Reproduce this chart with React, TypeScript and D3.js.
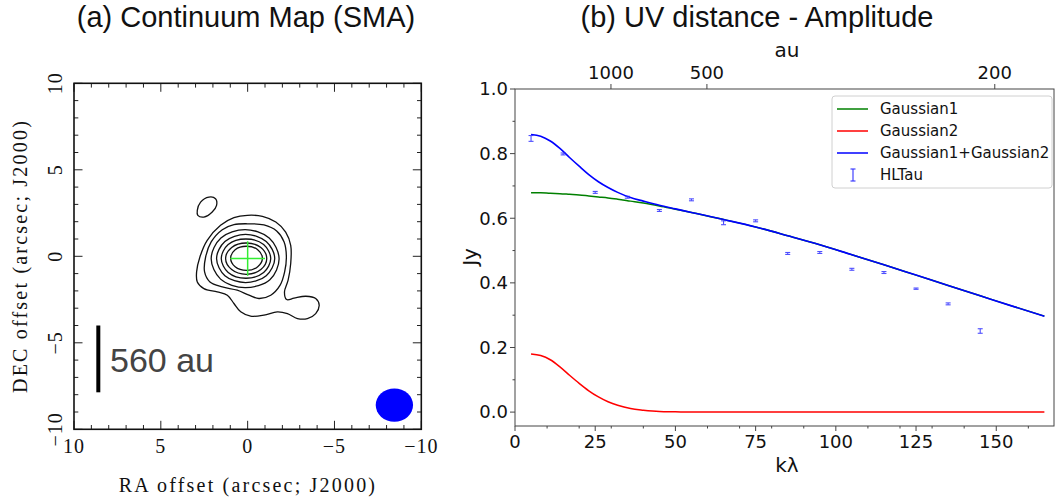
import React from 'react';
import * as d3 from 'd3';

const W = 1057;
const H = 501;

// ---------- (a) continuum map ----------
const raTicks = [10, 5, 0, -5, -10];
const decTicks = [10, 5, 0, -5, -10];
const sourcePos: [number, number] = [0, -0.13];
const crossHalf = 1.0;

// contours, [ra, dec] in arcsec, innermost first
const ring1: [number, number][] = [[0.07, 0.58], [-0.58, 0.38], [-0.85, -0.11], [-0.58, -0.6], [0.07, -0.81], [0.72, -0.6], [0.98, -0.11], [0.72, 0.38]];
const ring2: [number, number][] = [[0.08, 0.77], [-0.76, 0.51], [-1.1, -0.13], [-0.76, -0.77], [0.08, -1.04], [0.92, -0.77], [1.27, -0.13], [0.92, 0.51]];
const ring3: [number, number][] = [[0.1, 1.0], [-0.92, 0.68], [-1.33, -0.13], [-0.92, -0.94], [0.1, -1.27], [1.12, -0.94], [1.52, -0.13], [1.12, 0.68]];
const ring4: [number, number][] = [[0.12, 1.27], [-1.07, 0.86], [-1.56, -0.13], [-1.07, -1.12], [0.12, -1.52], [1.31, -1.12], [1.79, -0.13], [1.31, 0.86]];
const ring5: [number, number][] = [[0.15, 1.54], [-1.24, 1.06], [-1.81, -0.13], [-1.28, -1.36], [0.15, -1.81], [1.56, -1.32], [2.1, -0.13], [1.54, 1.06]];
const ring6: [number, number][] = [
  [0.02, 1.88], [-0.94, 1.81], [-1.67, 1.46], [-2.1, 0.83], [-2.23, -0.04], [-2.13, -0.9],
  [-1.87, -1.67], [-1.33, -2.25], [-0.65, -2.44], [-0.08, -2.25], [0.6, -1.96], [1.46, -1.77],
  [2.17, -1.48], [2.48, -0.9], [2.42, -0.04], [2.1, 0.83], [1.46, 1.54], [0.79, 1.83],
];
const ring7: [number, number][] = [
  [0.02, 2.37], [-0.85, 2.31], [-1.62, 1.98], [-2.19, 1.4], [-2.48, 0.63], [-2.48, -0.42],
  [-2.33, -1.38], [-2.12, -2.06], [-2.25, -2.5], [-2.67, -2.42], [-3.35, -2.31], [-3.92, -2.44],
  [-4.12, -2.83], [-3.92, -3.31], [-3.44, -3.6], [-2.87, -3.6], [-2.29, -3.31], [-1.71, -3.21],
  [-0.94, -3.4], [-0.17, -3.46], [0.4, -3.21], [0.79, -2.73], [1.17, -2.25], [1.75, -2.06],
  [2.52, -1.87], [2.9, -1.48], [2.94, -0.9], [2.75, -0.04], [2.33, 0.92], [1.56, 1.79], [0.79, 2.23],
];
const island: [number, number][] = [[2.9, 2.65], [2.71, 3.13], [2.23, 3.42], [1.85, 3.33], [1.79, 2.94], [2.04, 2.56], [2.52, 2.27], [2.87, 2.37]];
const contours = [ring1, ring2, ring3, ring4, ring5, ring6, ring7, island];

const beam = { ra: -8.45, dec: -8.6, major: 2.15, minor: 1.93 };
const scaleBar = { ra: 8.6, dec: -4.0, au: 560, distPc: 145 };

// ---------- (b) uv distance - amplitude ----------
const uvKl = [5, 15, 25, 35, 45, 55, 65, 75, 85, 95, 105, 115, 125, 135, 145];
const ampJy = [0.847, 0.799, 0.68, 0.665, 0.624, 0.657, 0.586, 0.592, 0.491, 0.494, 0.442, 0.432, 0.382, 0.335, 0.251];
const ampErr = [0.009, 0.003, 0.003, 0.003, 0.003, 0.003, 0.006, 0.003, 0.003, 0.003, 0.003, 0.003, 0.002, 0.003, 0.007];

const modelKl = [5, 8, 11, 14, 17, 20, 23, 26, 29, 32, 36, 40, 45, 50, 55, 65, 75, 85, 95, 105, 115, 125, 135, 145, 155, 165];
const gauss1 = [0.679, 0.679, 0.677, 0.676, 0.674, 0.672, 0.669, 0.666, 0.663, 0.659, 0.653, 0.647, 0.638, 0.628, 0.618, 0.596, 0.573, 0.546, 0.518, 0.487, 0.456, 0.424, 0.392, 0.36, 0.328, 0.297];
const gauss2 = [0.18, 0.175, 0.162, 0.14, 0.114, 0.089, 0.066, 0.047, 0.032, 0.021, 0.011, 0.006, 0.002, 0.001, 0, 0, 0, 0, 0, 0, 0, 0, 0, 0, 0, 0];
const gaussSum = [0.859, 0.854, 0.839, 0.816, 0.788, 0.761, 0.735, 0.713, 0.695, 0.68, 0.664, 0.653, 0.64, 0.629, 0.618, 0.596, 0.573, 0.546, 0.518, 0.487, 0.456, 0.424, 0.392, 0.36, 0.328, 0.297];

const xTicks = [0, 25, 50, 75, 100, 125, 150];
const yTicks = [0.0, 0.2, 0.4, 0.6, 0.8, 1.0];
const auTicks = [1000, 500, 200];
const AU_KL = 206.265 * 145; // au = AU_KL / kλ

const legendItems = [
  { label: 'Gaussian1', color: '#008000', kind: 'line' },
  { label: 'Gaussian2', color: '#ff0000', kind: 'line' },
  { label: 'Gaussian1+Gaussian2', color: '#0000ff', kind: 'line' },
  { label: 'HLTau', color: '#3030ff', kind: 'err' },
];

const serif = '"Liberation Serif", "Times New Roman", serif';
const helv = '"Liberation Sans", Arial, sans-serif';
const dejavu = '"DejaVu Sans", sans-serif';

const fmtMinus = (v: number) => (v < 0 ? '\u2212' + Math.abs(v) : String(v));

const ContinuumMap = () => {
  const ra = d3.scaleLinear().domain([10, -10]).range([74, 421.3]);
  const dec = d3.scaleLinear().domain([10, -10]).range([83.3, 429.3]);
  const line = d3
    .line<[number, number]>()
    .x(d => ra(d[0]))
    .y(d => dec(d[1]))
    .curve(d3.curveCatmullRomClosed.alpha(0.5));

  const x0 = ra(10), x1 = ra(-10), y0 = dec(10), y1 = dec(-10);
  const minor = d3.range(-10, 11);
  const tickLen = (v: number) => (v % 5 === 0 ? 8.5 : 4.3);
  const barLen = scaleBar.au / scaleBar.distPc;

  return (
    <g>
      <text x={246} y={27} textAnchor="middle" fontFamily={helv} fontSize={29} fill="#111">
        (a) Continuum Map (SMA)
      </text>
      {contours.map((c, i) => (
        <path key={i} d={line(c) || ''} fill="none" stroke="#111" strokeWidth={1.3} />
      ))}
      <line x1={ra(sourcePos[0] + crossHalf)} x2={ra(sourcePos[0] - crossHalf)} y1={dec(sourcePos[1])} y2={dec(sourcePos[1])} stroke="#33ee33" strokeWidth={1.5} />
      <line x1={ra(sourcePos[0])} x2={ra(sourcePos[0])} y1={dec(sourcePos[1] + crossHalf)} y2={dec(sourcePos[1] - crossHalf)} stroke="#33ee33" strokeWidth={1.5} />
      <line x1={ra(scaleBar.ra)} x2={ra(scaleBar.ra)} y1={dec(scaleBar.dec)} y2={dec(scaleBar.dec - barLen)} stroke="#000" strokeWidth={4} />
      <text x={110} y={372} fontFamily={helv} fontSize={34} fill="#444">
        {scaleBar.au} au
      </text>
      <ellipse
        cx={ra(beam.ra)}
        cy={dec(beam.dec)}
        rx={Math.abs(ra(beam.major / 2) - ra(0))}
        ry={Math.abs(dec(beam.minor / 2) - dec(0))}
        fill="#0000ff"
      />
      {minor.map(v => (
        <g key={'t' + v} stroke="#222" strokeWidth={1}>
          <line x1={ra(v)} x2={ra(v)} y1={y1} y2={y1 - tickLen(v)} />
          <line x1={ra(v)} x2={ra(v)} y1={y0} y2={y0 + tickLen(v)} />
          <line y1={dec(v)} y2={dec(v)} x1={x0} x2={x0 + tickLen(v)} />
          <line y1={dec(v)} y2={dec(v)} x1={x1} x2={x1 - tickLen(v)} />
        </g>
      ))}
      <rect x={x0} y={y0} width={x1 - x0} height={y1 - y0} fill="none" stroke="#111" strokeWidth={1.6} />
      {raTicks.map(v => (
        <text key={'rx' + v} x={ra(v)} y={453} textAnchor="middle" fontFamily={serif} fontSize={20} letterSpacing={1} fill="#111">
          {fmtMinus(v)}
        </text>
      ))}
      {decTicks.map(v => (
        <text key={'dy' + v} transform={`translate(62,${dec(v)}) rotate(-90)`} textAnchor="middle" fontFamily={serif} fontSize={20} letterSpacing={1} fill="#111">
          {fmtMinus(v)}
        </text>
      ))}
      <text x={248} y={492} textAnchor="middle" fontFamily={serif} fontSize={20} letterSpacing={2.2} fill="#111">
        RA offset (arcsec; J2000)
      </text>
      <text transform={`translate(27,256) rotate(-90)`} textAnchor="middle" fontFamily={serif} fontSize={20} letterSpacing={2.2} fill="#111">
        DEC offset (arcsec; J2000)
      </text>
    </g>
  );
};

const UVPlot = () => {
  const x = d3.scaleLinear().domain([0, 168]).range([515, 1054]);
  const y = d3.scaleLinear().domain([-0.043, 1]).range([426, 89]);
  const mk = (vals: number[]) =>
    d3
      .line<number>()
      .x((_, i) => x(modelKl[i]))
      .y(d => y(d))
      .curve(d3.curveMonotoneX)(vals) || '';

  const left = x.range()[0], right = x.range()[1];
  const top = y.range()[1], bottom = y.range()[0];
  const xMinor = d3.range(10, 168, 10);
  const yMinor = [0.1, 0.3, 0.5, 0.7, 0.9];
  const axisColor = '#444';

  const lgX = 832, lgY = 96, lgW = 220, lgRow = 22;

  return (
    <g>
      <text x={757} y={27} textAnchor="middle" fontFamily={helv} fontSize={29} fill="#111">
        (b) UV distance - Amplitude
      </text>
      <text x={787} y={57} textAnchor="middle" fontFamily={dejavu} fontSize={20} fill="#111">
        au
      </text>

      <path d={mk(gauss2)} fill="none" stroke="#ff0000" strokeWidth={1.5} />
      <path d={mk(gauss1)} fill="none" stroke="#008000" strokeWidth={1.5} />
      <path d={mk(gaussSum)} fill="none" stroke="#0000ff" strokeWidth={1.6} />

      {uvKl.map((k, i) => {
        const cx = x(k);
        const ya = y(ampJy[i] + ampErr[i]);
        const yb = y(ampJy[i] - ampErr[i]);
        return (
          <g key={'e' + i} stroke="#3030ff" strokeWidth={1.1} opacity={0.85}>
            <line x1={cx} x2={cx} y1={ya} y2={yb} />
            <line x1={cx - 2.5} x2={cx + 2.5} y1={ya} y2={ya} />
            <line x1={cx - 2.5} x2={cx + 2.5} y1={yb} y2={yb} />
          </g>
        );
      })}

      {/* spines */}
      <rect x={left} y={top} width={right - left} height={bottom - top} fill="none" stroke={axisColor} strokeWidth={1} />

      {xTicks.map(v => (
        <g key={'xt' + v}>
          <line x1={x(v)} x2={x(v)} y1={bottom} y2={bottom + 5} stroke={axisColor} />
          <text x={x(v)} y={448} textAnchor="middle" fontFamily={dejavu} fontSize={18} fill="#111">
            {v}
          </text>
        </g>
      ))}
      {xMinor.filter(v => v % 25 !== 0).map(v => (
        <line key={'xm' + v} x1={x(v)} x2={x(v)} y1={bottom} y2={bottom + 2.5} stroke={axisColor} />
      ))}
      {yTicks.map(v => (
        <g key={'yt' + v}>
          <line x1={left - 5} x2={left} y1={y(v)} y2={y(v)} stroke={axisColor} />
          <text x={508} y={y(v)} dy="0.35em" textAnchor="end" fontFamily={dejavu} fontSize={18} fill="#111">
            {v.toFixed(1)}
          </text>
        </g>
      ))}
      {yMinor.map(v => (
        <line key={'ym' + v} x1={left - 2.5} x2={left} y1={y(v)} y2={y(v)} stroke={axisColor} />
      ))}
      {auTicks.map(a => (
        <g key={'au' + a}>
          <line x1={x(AU_KL / a)} x2={x(AU_KL / a)} y1={top} y2={top - 5} stroke={axisColor} />
          <text x={x(AU_KL / a)} y={79} textAnchor="middle" fontFamily={dejavu} fontSize={18} fill="#111">
            {a}
          </text>
        </g>
      ))}

      <text x={787} y={472} textAnchor="middle" fontFamily={dejavu} fontSize={20} fill="#111">
        kλ
      </text>
      <text transform="translate(477,257) rotate(-90)" textAnchor="middle" fontFamily={dejavu} fontSize={20} fill="#111">
        Jy
      </text>

      {/* legend */}
      <rect x={lgX} y={lgY} width={lgW} height={92} rx={3} fill="#fff" fillOpacity={0.8} stroke="#d0d0d0" />
      {legendItems.map((it, i) => {
        const cy = lgY + 13 + i * lgRow;
        return (
          <g key={it.label}>
            {it.kind === 'line' ? (
              <line x1={837} x2={868} y1={cy} y2={cy} stroke={it.color} strokeWidth={1.5} />
            ) : (
              <g stroke={it.color} strokeWidth={1.1}>
                <line x1={853} x2={853} y1={cy - 6} y2={cy + 6} />
                <line x1={850.5} x2={855.5} y1={cy - 6} y2={cy - 6} />
                <line x1={850.5} x2={855.5} y1={cy + 6} y2={cy + 6} />
              </g>
            )}
            <text x={880} y={cy} dy="0.35em" fontFamily={dejavu} fontSize={15} fill="#111">
              {it.label}
            </text>
          </g>
        );
      })}
    </g>
  );
};

export default function App() {
  return (
    <svg
      width={W}
      height={H}
      viewBox={`0 0 ${W} ${H}`}
      style={{ position: 'absolute', left: 0, top: 0, background: '#fff' }}
    >
      <rect width={W} height={H} fill="#fff" />
      <ContinuumMap />
      <UVPlot />
    </svg>
  );
}
